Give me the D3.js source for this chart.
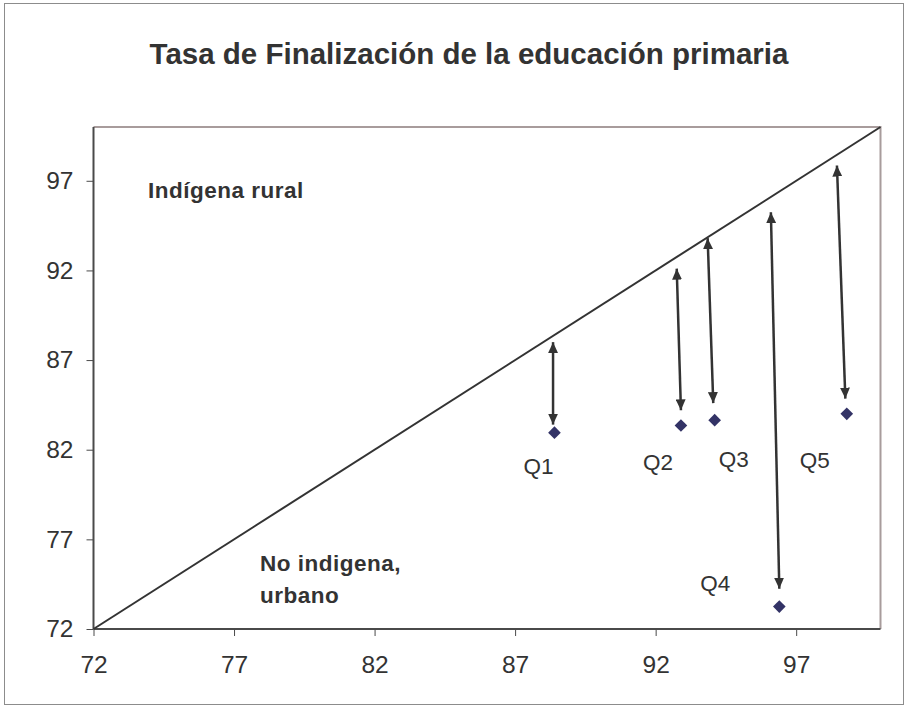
<!DOCTYPE html>
<html>
<head>
<meta charset="utf-8">
<script src="https://cdn.jsdelivr.net/npm/d3@7"></script>
<style>
  html, body { margin: 0; padding: 0; background: #fff; }
  svg { display: block; }
</style>
</head>
<body>
<svg id="chart" width="909" height="707"></svg>
<script>
// ---- data ----
const title = "Tasa de Finalización de la educación primaria";
const quintiles = ["Q1", "Q2", "Q3", "Q4", "Q5"];
// values
const pointX = [88.4, 92.9, 94.1, 96.4, 98.8];
const pointY = [82.95, 83.35, 83.65, 73.25, 84.0];
// arrows: top end and bottom end (data units)
const arrowTopX = [88.35, 92.75, 93.85, 96.1, 98.45];
const arrowTopY = [88.0, 92.1, 93.8, 95.25, 97.85];
const arrowBotX = [88.35, 92.9, 94.05, 96.4, 98.75];
const arrowBotY = [83.4, 84.2, 84.6, 74.25, 84.85];
const tickValues = [72, 77, 82, 87, 92, 97];
const regionLabels = [["Indígena rural"], ["No indigena,", "urbano"]];

// ---- drawing ----
const svg = d3.select("#chart");
const M = { left: 93.5, right: 880.5, top: 127, bottom: 629 };
const x = d3.scaleLinear().domain([72, 100]).range([M.left, M.right]);
const y = d3.scaleLinear().domain([72, 100]).range([M.bottom, M.top]);
const textColor = "#333333";
const font = "'Liberation Sans', Arial, Helvetica, sans-serif";

// outer frame
svg.append("rect").attr("x", 4.5).attr("y", 3.5).attr("width", 899).attr("height", 701)
  .attr("fill", "#fff").attr("stroke", "#8c8c8c").attr("stroke-width", 1);

// plot frame (top/right lighter)
svg.append("path")
  .attr("d", `M${M.left},${M.top}H${M.right}V${M.bottom}`)
  .attr("fill", "none").attr("stroke", "#a89c9c").attr("stroke-width", 2);

// title
svg.append("text").attr("x", 469).attr("y", 64)
  .attr("text-anchor", "middle").attr("font-family", font)
  .attr("font-weight", "bold").attr("font-size", 29.5).attr("fill", textColor)
  .text(title);

// axes
const xAxis = d3.axisBottom(x).tickValues(tickValues).tickSize(7).tickPadding(20).tickFormat(d3.format("d"));
const yAxis = d3.axisLeft(y).tickValues(tickValues).tickSize(7).tickPadding(13).tickFormat(d3.format("d"));
const gx = svg.append("g").attr("transform", `translate(0,${M.bottom})`).call(xAxis);
const gy = svg.append("g").attr("transform", `translate(${M.left},0)`).call(yAxis);
[gx, gy].forEach(g => {
  g.select(".domain").attr("stroke", "#4a4a4a").attr("stroke-width", 2);
  g.selectAll(".tick line").attr("stroke", "#4a4a4a").attr("stroke-width", 1);
  g.selectAll(".tick text").attr("font-family", font).attr("font-size", 24.5).attr("fill", textColor);
});
gx.select(".domain").attr("d", `M${M.left},0H${M.right}`);
gy.select(".domain").attr("d", `M0,${M.top}V${M.bottom}`);

// diagonal
svg.append("line")
  .attr("x1", x(72)).attr("y1", y(72)).attr("x2", x(100)).attr("y2", y(100))
  .attr("stroke", "#333333").attr("stroke-width", 2);

// arrow marker
const defs = svg.append("defs");
defs.append("marker").attr("id", "ah")
  .attr("markerUnits", "userSpaceOnUse")
  .attr("viewBox", "0 0 11 10").attr("refX", 11).attr("refY", 5)
  .attr("markerWidth", 11).attr("markerHeight", 10)
  .attr("orient", "auto-start-reverse")
  .append("path").attr("d", "M0,0L11,5L0,10Z").attr("fill", "#333333");

svg.append("g").selectAll("line").data(quintiles).join("line")
  .attr("x1", (d, i) => x(arrowBotX[i])).attr("y1", (d, i) => y(arrowBotY[i]))
  .attr("x2", (d, i) => x(arrowTopX[i])).attr("y2", (d, i) => y(arrowTopY[i]))
  .attr("stroke", "#333333").attr("stroke-width", 2.5)
  .attr("marker-start", "url(#ah)").attr("marker-end", "url(#ah)");

// points (diamonds)
svg.append("g").selectAll("path").data(quintiles).join("path")
  .attr("d", d3.symbol(d3.symbolSquare, 80))
  .attr("transform", (d, i) => `translate(${x(pointX[i])},${y(pointY[i])}) rotate(45)`)
  .attr("fill", "#333366");

// point labels (pixel offsets from the point)
const labelOffset = { Q1: [-16, 41], Q2: [-23, 44], Q3: [19, 47], Q4: [-64, -16], Q5: [-32, 54] };
svg.append("g").selectAll("text").data(quintiles).join("text")
  .attr("x", (d, i) => x(pointX[i]) + labelOffset[d][0])
  .attr("y", (d, i) => y(pointY[i]) + labelOffset[d][1])
  .attr("text-anchor", "middle").attr("font-family", font)
  .attr("font-size", 22.5).attr("fill", textColor)
  .text(d => d);

// region labels
const regionPos = [[148, 198], [260, 571]];
regionLabels.forEach((lines, k) => {
  const t = svg.append("text").attr("x", regionPos[k][0]).attr("y", regionPos[k][1])
    .attr("font-family", font).attr("font-weight", "bold").attr("font-size", 22.5)
    .attr("letter-spacing", 0.5).attr("fill", textColor);
  lines.forEach((s, j) => t.append("tspan").attr("x", regionPos[k][0]).attr("dy", j ? 32 : 0).text(s));
});
</script>
</body>
</html>
